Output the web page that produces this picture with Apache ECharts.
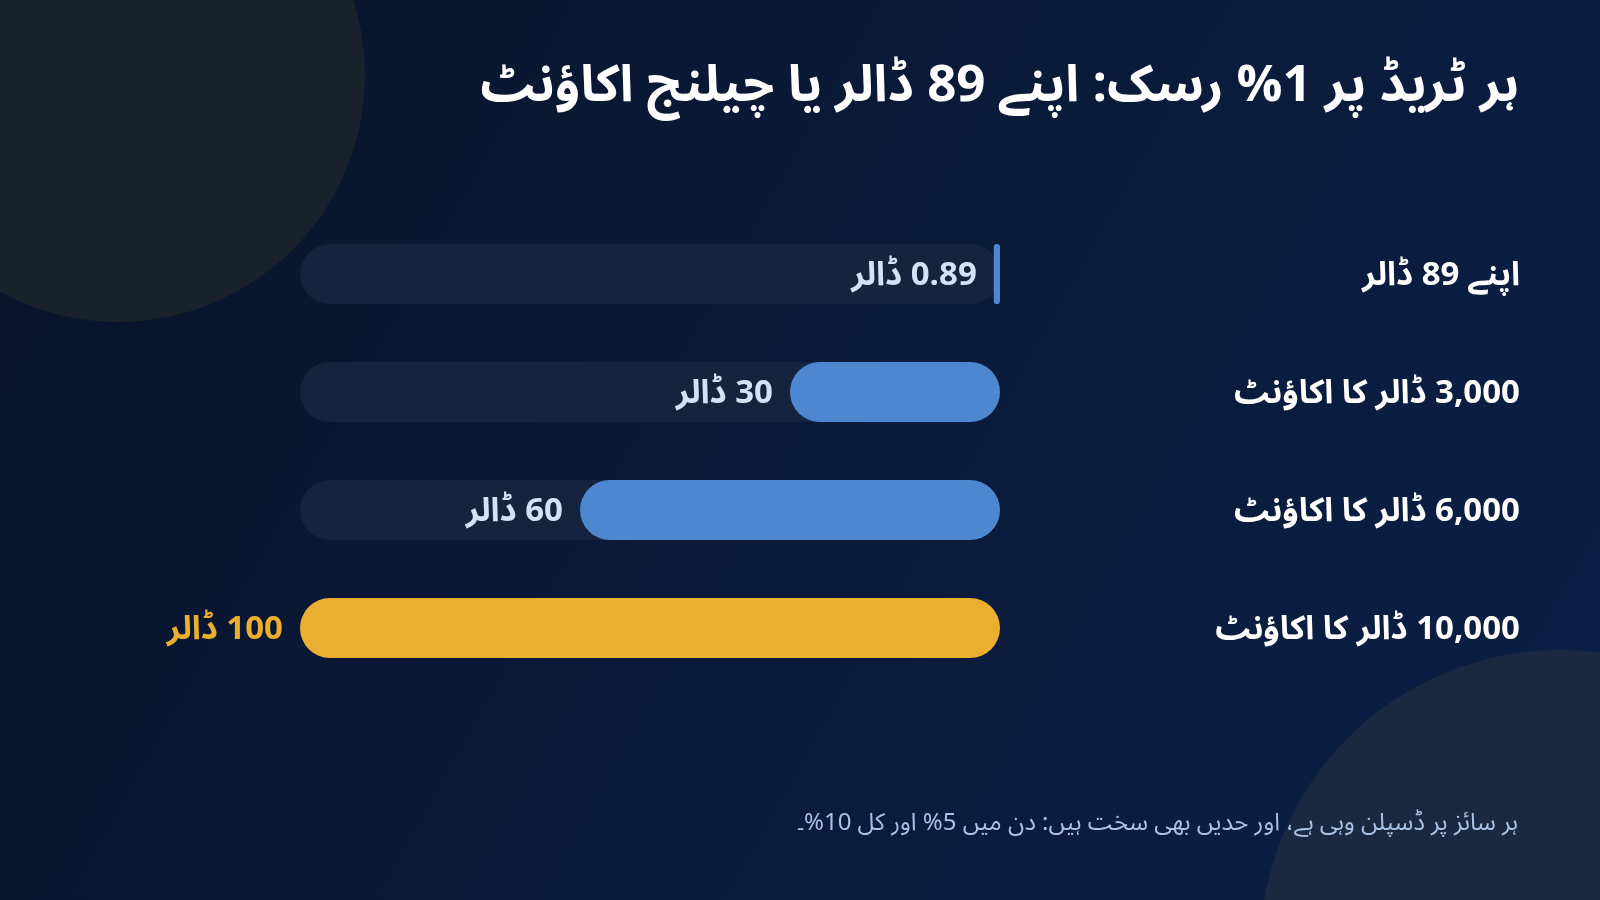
<!DOCTYPE html>
<html lang="ur">
<head>
<meta charset="utf-8">
<script src="https://cdn.jsdelivr.net/npm/echarts@6/dist/echarts.min.js"></script>
<style>
  html, body { margin: 0; padding: 0; background: #0a1833; }
  #chart { width: 1600px; height: 900px; direction: rtl; }
</style>
</head>
<body>
<div id="chart" dir="rtl"></div>
<script>
const titleText = 'ہر ٹریڈ پر 1% رسک: اپنے 89 ڈالر یا چیلنج اکاؤنٹ';
const footnoteText = 'ہر سائز پر ڈسپلن وہی ہے، اور حدیں بھی سخت ہیں: دن میں 5% اور کل 10%۔';
const categories = ['اپنے 89 ڈالر', '3,000 ڈالر کا اکاؤنٹ', '6,000 ڈالر کا اکاؤنٹ', '10,000 ڈالر کا اکاؤنٹ'];
const riskValues = [0.89, 30, 60, 100];
const trackValues = [100, 100, 100, 100];
const unitLabel = 'ڈالر';
const barColors = ['#4d87cf', '#4d87cf', '#4d87cf', '#ebae2e'];
const labelColors = ['#d3e2f6', '#d3e2f6', '#d3e2f6', '#ebae2e'];

const FONT = "'Noto Sans Arabic', 'Noto Sans', 'Open Sans', 'DejaVu Sans', sans-serif";

const chart = echarts.init(document.getElementById('chart'), null, { renderer: 'canvas' });

const option = {
  backgroundColor: {
    type: 'linear', x: 0, y: 0, x2: 1, y2: 1,
    colorStops: [
      { offset: 0, color: '#08142b' },
      { offset: 1, color: '#0c2046' }
    ]
  },
  graphic: [
    { type: 'circle', z: -10, shape: { cx: 118, cy: 75, r: 247 }, style: { fill: '#19212d' }, silent: true },
    { type: 'circle', z: -10, shape: { cx: 1560, cy: 950, r: 300 }, style: { fill: '#1b2842' }, silent: true }
  ],
  title: [
    {
      text: titleText,
      right: 76, top: 63,
      textStyle: { color: '#ffffff', fontSize: 51, fontWeight: 'bold', fontFamily: FONT }
    },
    {
      text: footnoteText,
      right: 77, top: 809,
      textStyle: { color: '#a9c2e6', fontSize: 24, fontWeight: 'normal', fontFamily: FONT }
    }
  ],
  grid: { left: 300, right: 600, top: 215, bottom: 213, containLabel: false },
  xAxis: {
    type: 'value', min: 0, max: 100, inverse: true,
    show: false
  },
  yAxis: {
    type: 'category', data: categories, inverse: true, position: 'right',
    axisLine: { show: false }, axisTick: { show: false }, splitLine: { show: false },
    axisLabel: {
      align: 'right', margin: 520,
      formatter: v => '{a|' + v + '}',
      rich: {
        a: { color: '#ffffff', fontSize: 33, fontWeight: 'bold', fontFamily: FONT, padding: [13, 0, 0, 0] }
      }
    }
  },
  series: [
    {
      type: 'bar', name: 'track', data: trackValues, barWidth: 60, barGap: '-100%',
      silent: true, z: 1,
      itemStyle: { color: '#15233f', borderRadius: 30 },
      animation: false
    },
    {
      type: 'bar', name: 'risk', z: 2, barWidth: 60,
      data: riskValues.map((v, i) => ({
        value: v,
        itemStyle: { color: barColors[i], borderRadius: 30 },
        label: { color: labelColors[i] }
      })),
      label: {
        show: true, position: 'left', distance: 17, offset: [0, 6],
        fontSize: 33, fontWeight: 'bold', fontFamily: FONT,
        formatter: p => p.value + ' ' + unitLabel
      },
      animation: false
    }
  ]
};

chart.setOption(option);
</script>
</body>
</html>
